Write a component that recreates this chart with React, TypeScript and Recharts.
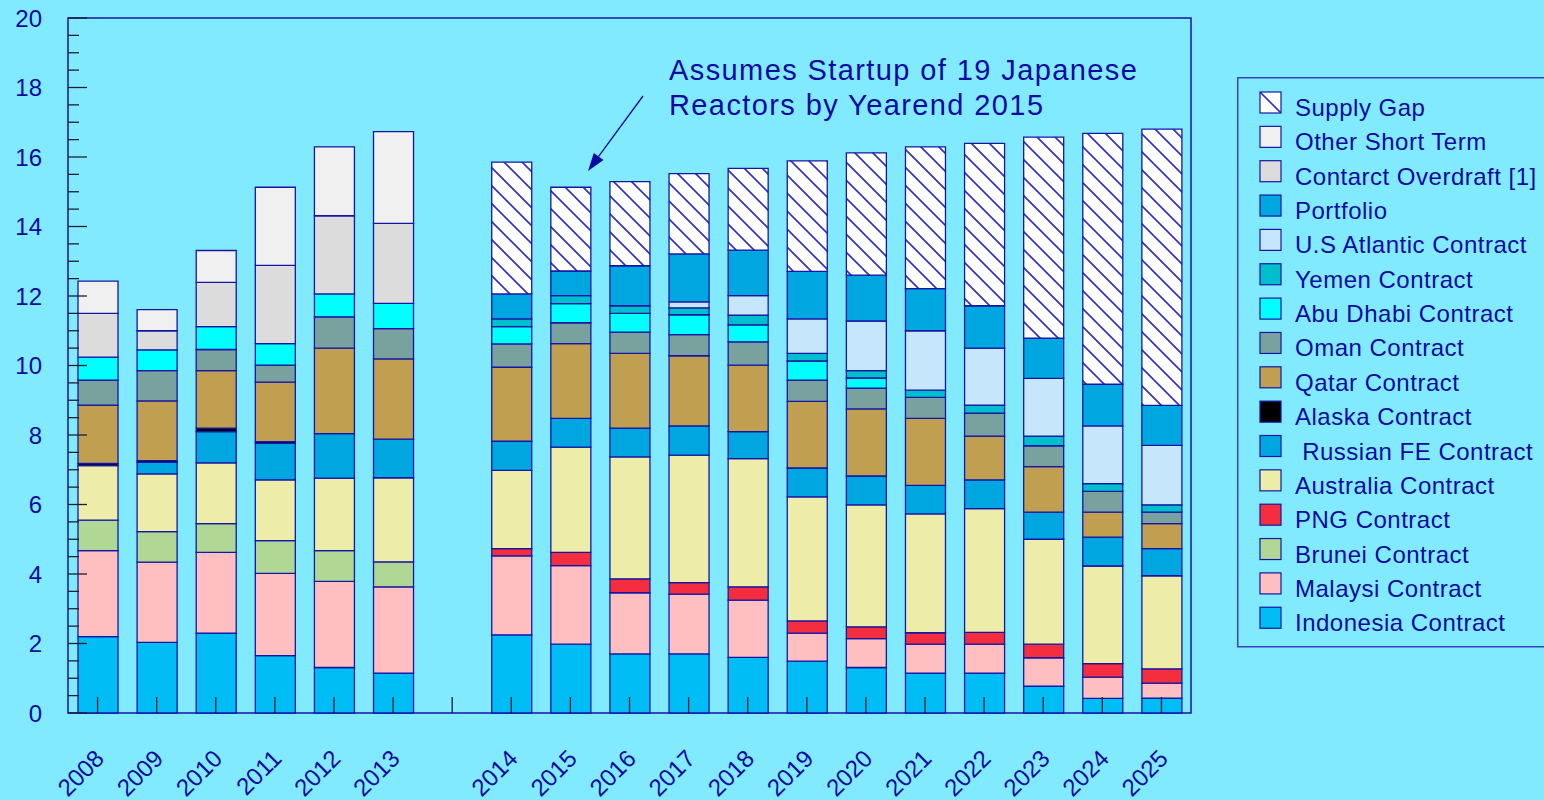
import React from 'react'
import { BarChart, Bar, XAxis, YAxis, ReferenceArea } from 'recharts'

// categories (the blank one is the gap between 2013 and 2014)
const years = ['2008', '2009', '2010', '2011', '2012', '2013', ' ', '2014', '2015', '2016', '2017', '2018', '2019', '2020', '2021', '2022', '2023', '2024', '2025']

// stacked from the bottom up
const indonesia = [2.2, 2.03, 2.3, 1.65, 1.31, 1.15, 0, 2.25, 1.98, 1.7, 1.7, 1.6, 1.49, 1.31, 1.15, 1.15, 0.77, 0.42, 0.43]
const malaysi = [2.47, 2.31, 2.32, 2.37, 2.48, 2.48, 0, 2.27, 2.26, 1.76, 1.72, 1.65, 0.81, 0.83, 0.83, 0.83, 0.82, 0.61, 0.43]
const brunei = [0.88, 0.88, 0.83, 0.94, 0.88, 0.72, 0, 0, 0, 0, 0, 0, 0, 0, 0, 0, 0, 0, 0]
const png = [0, 0, 0, 0, 0, 0, 0, 0.21, 0.38, 0.4, 0.33, 0.38, 0.35, 0.34, 0.33, 0.34, 0.39, 0.39, 0.41]
const australia = [1.57, 1.66, 1.75, 1.75, 2.09, 2.42, 0, 2.25, 3.03, 3.51, 3.67, 3.69, 3.57, 3.51, 3.42, 3.56, 3.02, 2.81, 2.68]
const russianFE = [0, 0.33, 0.9, 1.05, 1.28, 1.11, 0, 0.84, 0.83, 0.83, 0.84, 0.78, 0.83, 0.83, 0.82, 0.83, 0.78, 0.83, 0.78]
const alaska = [0.06, 0.05, 0.1, 0.05, 0, 0, 0, 0, 0, 0, 0, 0, 0, 0, 0, 0, 0, 0, 0]
const qatar = [1.68, 1.72, 1.65, 1.71, 2.46, 2.31, 0, 2.13, 2.15, 2.15, 2.02, 1.91, 1.92, 1.93, 1.93, 1.26, 1.31, 0.72, 0.72]
const oman = [0.72, 0.87, 0.61, 0.49, 0.9, 0.87, 0, 0.67, 0.6, 0.61, 0.61, 0.67, 0.61, 0.6, 0.6, 0.66, 0.6, 0.6, 0.33]
const abuDhabi = [0.66, 0.6, 0.66, 0.62, 0.66, 0.73, 0, 0.5, 0.55, 0.54, 0.57, 0.49, 0.55, 0.29, 0, 0, 0, 0, 0]
const yemen = [0, 0, 0, 0, 0, 0, 0, 0.22, 0.23, 0.22, 0.2, 0.28, 0.22, 0.21, 0.21, 0.23, 0.28, 0.22, 0.21]
const usAtlantic = [0, 0, 0, 0, 0, 0, 0, 0, 0, 0, 0.17, 0.56, 0.99, 1.43, 1.71, 1.64, 1.66, 1.66, 1.71]
const portfolio = [0, 0, 0, 0, 0, 0, 0, 0.72, 0.71, 1.15, 1.38, 1.31, 1.37, 1.32, 1.21, 1.22, 1.16, 1.2, 1.15]
const overdraft = [1.26, 0.55, 1.27, 2.25, 2.25, 2.3, 0, 0, 0, 0, 0, 0, 0, 0, 0, 0, 0, 0, 0]
const otherShortTerm = [0.93, 0.61, 0.92, 2.25, 1.98, 2.64, 0, 0, 0, 0, 0, 0, 0, 0, 0, 0, 0, 0, 0]
const supplyGap = [0, 0, 0, 0, 0, 0, 0, 3.79, 2.41, 2.42, 2.31, 2.35, 3.18, 3.52, 4.08, 4.67, 5.78, 7.22, 7.95]

const yTicks = Array.from({ length: 41 }, (_, i) => i / 2)

const NAVY = '#0A0AA0'
const EDGE = '#1616A6'
const BG = '#82EAFE'
const FONT = '"Liberation Sans", Arial, sans-serif'

const series = [
  { key: 'indonesia', name: 'Indonesia Contract', color: '#00BEF5', values: indonesia },
  { key: 'malaysi', name: 'Malaysi Contract', color: '#FFBEC0', values: malaysi },
  { key: 'brunei', name: 'Brunei Contract', color: '#B0D894', values: brunei },
  { key: 'png', name: 'PNG Contract', color: '#F42E3E', values: png },
  { key: 'australia', name: 'Australia Contract', color: '#EDECA8', values: australia },
  { key: 'russianFE', name: ' Russian FE Contract', color: '#00A6E0', values: russianFE },
  { key: 'alaska', name: 'Alaska Contract', color: '#000000', values: alaska },
  { key: 'qatar', name: 'Qatar Contract', color: '#C0A050', values: qatar },
  { key: 'oman', name: 'Oman Contract', color: '#79A19E', values: oman },
  { key: 'abuDhabi', name: 'Abu Dhabi Contract', color: '#00FFFF', values: abuDhabi },
  { key: 'yemen', name: 'Yemen Contract', color: '#00BFCC', values: yemen },
  { key: 'usAtlantic', name: 'U.S Atlantic Contract', color: '#C6E6FC', values: usAtlantic },
  { key: 'portfolio', name: 'Portfolio', color: '#00A6E0', values: portfolio },
  { key: 'overdraft', name: 'Contarct Overdraft [1]', color: '#DCDCDC', values: overdraft },
  { key: 'otherShortTerm', name: 'Other Short Term', color: '#F0F0F0', values: otherShortTerm },
  { key: 'supplyGap', name: 'Supply Gap', color: 'url(#gapHatch)', values: supplyGap },
]

const data = years.map((year, i) => {
  const row: Record<string, any> = { year }
  series.forEach((s) => {
    row[s.key] = s.values[i]
  })
  return row
})

function Hatch({ id }: { id: string }) {
  return (
    <pattern id={id} patternUnits="userSpaceOnUse" width={18} height={18}>
      <rect width={18} height={18} fill="#FFFFFF" />
      <path d="M0,0 L18,18 M-9,9 L9,27 M9,-9 L27,9" stroke="#3434B4" strokeWidth={1.7} />
    </pattern>
  )
}

function YTick(props: any) {
  const { x, y, payload } = props
  const v = payload.value
  const major = v % 2 === 0
  return (
    <g>
      <line x1={x} x2={x + (major ? 19 : 11)} y1={y} y2={y} stroke="#1d1d30" strokeWidth={1.3} />
      {major && (
        <text x={x - 26} y={y} dy={8.5} textAnchor="end" fontSize={24} fill={NAVY} fontFamily={FONT}>
          {v}
        </text>
      )}
    </g>
  )
}

function XTick(props: any) {
  const { x, y, payload } = props
  const tx = x + 8
  const ty = y + 47
  return (
    <g>
      <line x1={x} x2={x} y1={y} y2={y - 16} stroke="#1d1d30" strokeWidth={1.3} />
      <text x={tx} y={ty} textAnchor="end" transform={`rotate(-45 ${tx} ${ty})`} fontSize={24} fill={NAVY} fontFamily={FONT}>
        {payload.value}
      </text>
    </g>
  )
}

function Legend() {
  const items = [...series].reverse()
  return (
    <svg width={307} height={572} style={{ position: 'absolute', left: 1237, top: 77 }}>
      <defs>
        <pattern id="legendHatch" patternUnits="userSpaceOnUse" width={21} height={21} x={23} y={15}>
          <rect width={21} height={21} fill="#FFFFFF" />
          <path d="M0,0 L21,21" stroke="#3434B4" strokeWidth={1.6} />
        </pattern>
      </defs>
      <rect x={0.75} y={0.75} width={320} height={569} fill="none" stroke="#3442C4" strokeWidth={1.5} />
      {items.map((s, i) => {
        const top = 15 + i * 34.35
        return (
          <g key={s.key}>
            <rect x={23} y={top} width={21} height={21} fill={s.key === 'supplyGap' ? 'url(#legendHatch)' : s.color} stroke={EDGE} strokeWidth={1.2} />
            <text x={58} y={top + 24} fontSize={24} letterSpacing={0.5} fill={NAVY} fontFamily={FONT} style={{ whiteSpace: 'pre' }}>
              {s.name}
            </text>
          </g>
        )
      })}
    </svg>
  )
}

function Note() {
  const start = { x: 643, y: 96 }
  const tip = { x: 588, y: 171 }
  const dx = tip.x - start.x
  const dy = tip.y - start.y
  const len = Math.hypot(dx, dy)
  const ux = dx / len
  const uy = dy / len
  const bx = tip.x - ux * 18
  const by = tip.y - uy * 18
  const head = `${tip.x},${tip.y} ${bx + uy * 6},${by - ux * 6} ${bx - uy * 6},${by + ux * 6}`
  return (
    <svg width={1544} height={800} style={{ position: 'absolute', left: 0, top: 0, pointerEvents: 'none' }}>
      <text x={669} y={80} fontSize={29} letterSpacing={1.4} fill={NAVY} fontFamily={FONT}>
        Assumes Startup of 19 Japanese
      </text>
      <text x={669} y={115} fontSize={29} letterSpacing={1.4} fill={NAVY} fontFamily={FONT}>
        Reactors by Yearend 2015
      </text>
      <line x1={start.x} y1={start.y} x2={bx} y2={by} stroke={NAVY} strokeWidth={1.3} />
      <polygon points={head} fill={NAVY} />
    </svg>
  )
}

export default function App() {
  return (
    <div style={{ position: 'fixed', left: 0, top: 0, width: 1544, height: 800, background: BG, overflow: 'hidden', fontFamily: FONT }}>
      <BarChart width={1544} height={800} data={data} margin={{ top: 18, right: 353, bottom: 0, left: 0 }} barSize={40}>
        <defs>
          <Hatch id="gapHatch" />
        </defs>
        <XAxis dataKey="year" height={87} axisLine={false} tickLine={false} tickSize={0} tickMargin={0} interval={0} tick={<XTick />} />
        <YAxis
          type="number"
          domain={[0, 20]}
          ticks={yTicks}
          width={68}
          axisLine={false}
          tickLine={false}
          tickSize={0}
          tickMargin={0}
          interval={0}
          tick={<YTick />}
        />
        {series.map((s) => (
          <Bar key={s.key} dataKey={s.key} name={s.name} stackId="supply" fill={s.color} stroke={EDGE} strokeWidth={1.3} isAnimationActive={false} />
        ))}
        <ReferenceArea y1={0} y2={20} fill="none" fillOpacity={0} stroke={EDGE} strokeWidth={1.5} strokeOpacity={1} ifOverflow="visible" />
      </BarChart>
      <Note />
      <Legend />
    </div>
  )
}
